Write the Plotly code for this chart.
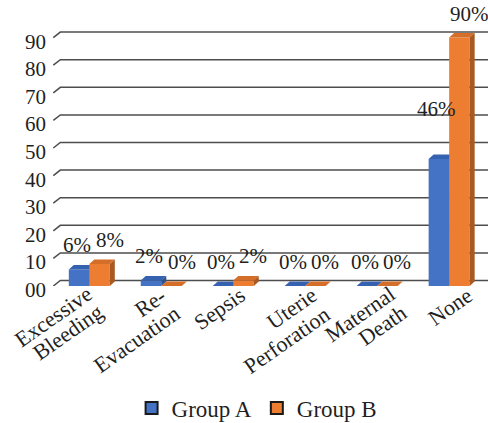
import plotly.graph_objects as go

# ---------------- data ----------------
categories = ["Excessive Bleeding", "Re-Evacuation", "Sepsis",
              "Uterie Perforation", "Maternal Death", "None"]
category_lines = [["Excessive", "Bleeding"], ["Re-", "Evacuation"], ["Sepsis"],
                  ["Uterie", "Perforation"], ["Maternal", "Death"], ["None"]]
group_a = [6, 2, 0, 0, 0, 46]
group_b = [8, 0, 2, 0, 0, 90]
series_names = ["Group A", "Group B"]
y_ticks = [0, 10, 20, 30, 40, 50, 60, 70, 80, 90]
y_tick_labels = ["00", "10", "20", "30", "40", "50", "60", "70", "80", "90"]

# ---------------- style ----------------
FONT = "Liberation Serif, Times New Roman, serif"
TXT = "#1f1f1f"
PX_PER_CAT = 72.0
PX_PER_UNIT = 2.76
BAR_W = 0.285
BAR_DX = 5 / PX_PER_CAT
BAR_DY = 4.5 / PX_PER_UNIT
WALL_DX = 7 / PX_PER_CAT
WALL_DY = 5.5 / PX_PER_UNIT
X_MIN, X_MAX = -0.56, 5.54
Y_RANGE = [0, 100]
TICK_LABEL_DROP_PX = 4
GRID_LEFT = -0.5
# centre of each category-label line, px relative to (category centre, floor), down positive
line_offsets = [[(-36, 30), (-22, 46)], [(-11, 16), (-25, 53)], [(-14, 22)],
                [(-14, 22), (-19, 54)], [(-18, 28), (5, 39)], [(1, 20)]]

styles = [
    dict(offset=-BAR_W, axis="x2", front="#4472C4", top="#3462B0", side="#2C5290", ldx=-2),
    dict(offset=0.0, axis="x3", front="#ED7D31", top="#D56E29", side="#A85A22", ldx=10),
]
values = [group_a, group_b]

fig = go.Figure()

# back-wall gridlines with slanted left ends
gx, gy = [], []
for t in y_ticks:
    gx += [GRID_LEFT, GRID_LEFT + WALL_DX, X_MAX + 0.2, None]
    gy += [t, t + WALL_DY, t + WALL_DY, None]
fig.add_trace(go.Scatter(x=gx, y=gy, mode="lines", line=dict(color="#4d4d4d", width=1.5),
                         hoverinfo="skip", showlegend=False, xaxis="x", yaxis="y"))

annotations = []
for s, (name, vals, st) in enumerate(zip(series_names, values, styles)):
    xs = [i + st["offset"] + BAR_W / 2 for i in range(len(categories))]
    fig.add_trace(go.Bar(x=xs, y=vals, width=BAR_W, marker=dict(color=st["front"], line=dict(width=0)),
                         xaxis=st["axis"], yaxis="y", showlegend=False, name=name))
    tx, ty, sx, sy = [], [], [], []
    for i, v in enumerate(vals):
        x0 = i + st["offset"]
        x1 = x0 + BAR_W
        tx += [x0, x1, x1 + BAR_DX, x0 + BAR_DX, x0, None]
        ty += [v, v, v + BAR_DY, v + BAR_DY, v, None]
        if v > 0:
            sx += [x1, x1 + BAR_DX, x1 + BAR_DX, x1, x1, None]
            sy += [0, BAR_DY, v + BAR_DY, v, 0, None]
    fig.add_trace(go.Scatter(x=tx, y=ty, mode="lines", fill="toself", fillcolor=st["top"],
                             line=dict(width=0, color=st["top"]), hoverinfo="skip",
                             showlegend=False, xaxis=st["axis"], yaxis="y"))
    if sx:
        fig.add_trace(go.Scatter(x=sx, y=sy, mode="lines", fill="toself", fillcolor=st["side"],
                                 line=dict(width=0, color=st["side"]), hoverinfo="skip",
                                 showlegend=False, xaxis=st["axis"], yaxis="y"))
    for i, v in enumerate(vals):
        shift = 50 if (s == 0 and i == 5) else 24
        annotations.append(dict(x=xs[i], y=v, xref="x", yref="y", text=f"{v}%", showarrow=False,
                                xanchor="center", yanchor="middle", xshift=st["ldx"], yshift=shift,
                                font=dict(family=FONT, size=21, color=TXT)))

# legend entries
for name, st in zip(series_names, styles):
    fig.add_trace(go.Scatter(x=[None], y=[None], mode="markers", name=name,
                             marker=dict(symbol="square", size=12, color=st["front"],
                                         line=dict(color="#1a1a1a", width=2)),
                             xaxis="x", yaxis="y"))

# category labels (rotated, right-aligned lines)
for i, lines in enumerate(category_lines):
    for line, (dx, dy) in zip(lines, line_offsets[i]):
        annotations.append(dict(x=i, y=0, xref="x", yref="y", text=line, showarrow=False,
                                xanchor="center", yanchor="middle", textangle=-35,
                                xshift=dx, yshift=-dy, font=dict(family=FONT, size=22, color=TXT)))

# value-axis labels
for t, lab in zip(y_ticks, y_tick_labels):
    annotations.append(dict(x=0, y=t, xref="paper", yref="y", text=lab, showarrow=False,
                            xanchor="right", yanchor="middle", xshift=-1,
                            yshift=-TICK_LABEL_DROP_PX, font=dict(family=FONT, size=21, color=TXT)))

axis_common = dict(range=[X_MIN, X_MAX], visible=False, fixedrange=True)
fig.update_layout(
    width=488, height=423,
    margin=dict(l=49, r=0, t=10, b=137, autoexpand=False),
    paper_bgcolor="white", plot_bgcolor="white",
    barmode="overlay",
    xaxis=dict(**axis_common),
    xaxis2=dict(**axis_common, overlaying="x", anchor="y"),
    xaxis3=dict(**axis_common, overlaying="x", anchor="y"),
    yaxis=dict(range=Y_RANGE, showticklabels=False, showgrid=False,
               zeroline=False, showline=False, ticks="", fixedrange=True),
    legend=dict(orientation="h", x=0.474, xanchor="center", y=-0.442, yanchor="middle",
                font=dict(family=FONT, size=23, color=TXT), itemwidth=30),
    annotations=annotations,
    showlegend=True,
)

fig.write_html("out.html")
